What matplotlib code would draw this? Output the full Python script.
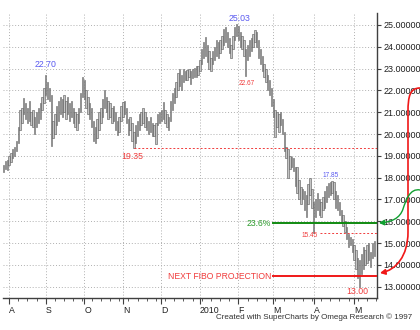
import matplotlib
matplotlib.use("Agg")
import matplotlib.pyplot as plt
import numpy as np
from matplotlib.path import Path
from matplotlib.patches import FancyArrowPatch

plt.rcParams['font.family'] = ['Liberation Sans', 'DejaVu Sans']

# ---- data (daily bars) ----
highs = [18.6, 18.75, 18.8, 19.0, 19.15, 19.3, 19.4, 19.7, 20.3, 21.1,
         21.2, 21.65, 21.4, 21.2, 21.5, 21.0, 21.1, 20.8, 21.0, 21.2,
         21.4, 21.7, 22.1, 22.7, 22.4, 22.1, 21.8, 20.6, 20.9, 21.3,
         21.5, 21.7, 21.6, 21.8, 21.5, 21.7, 21.4, 21.5, 21.2, 21.0,
         20.9, 21.2, 21.9, 22.6, 22.5, 22.0, 21.7, 21.4, 21.2, 20.6,
         20.3, 20.7, 21.0, 21.2, 21.6, 22.0, 21.7, 21.5, 21.4, 21.2,
         21.3, 21.0, 20.6, 20.8, 21.3, 21.45, 21.5, 21.2, 20.7, 20.8,
         20.5, 20.1, 20.4, 20.6, 20.9, 21.0, 21.2, 21.0, 20.8, 20.6,
         20.8, 20.5, 20.4, 20.5, 20.9, 21.0, 21.1, 21.45, 21.1, 20.9,
         20.8, 21.5, 21.9, 22.1, 22.4, 22.8, 23.0, 22.7, 23.0, 22.9,
         22.95, 23.0, 22.9, 23.0, 23.05, 23.1, 23.1, 23.4, 23.9, 24.2,
         24.45, 24.1, 23.8, 23.5, 23.8, 24.0, 24.3, 24.2, 24.3, 24.5,
         24.8, 24.9, 24.7, 24.4, 24.1, 24.5, 24.9, 25.03, 24.95, 24.7,
         24.5, 24.3, 23.9, 24.1, 24.3, 24.4, 24.6, 24.75, 24.7, 24.3,
         23.9, 23.6, 23.2, 23.0, 22.7, 22.5, 22.1, 21.6, 21.1, 21.0,
         20.9, 21.0, 20.7, 20.1, 19.4, 19.3, 19.0, 18.95, 18.9, 18.5,
         18.5, 17.9, 17.55, 17.5, 17.4, 17.2, 17.7, 18.0, 17.5, 16.9,
         17.0, 17.3, 17.0, 16.9, 17.1, 17.4, 17.6, 17.75, 17.8, 17.85,
         17.8, 17.4, 17.2, 16.9, 16.5, 16.3, 16.0, 15.75, 15.4, 15.3,
         15.2, 14.9, 14.7, 14.3, 14.2, 14.5, 14.8, 14.7, 14.9, 15.0,
         14.6, 15.0, 15.1]
lows = [18.25, 18.4, 18.35, 18.6, 18.7, 18.9, 19.0, 19.2, 19.6, 20.2,
        20.5, 20.9, 20.7, 20.5, 20.6, 20.4, 20.3, 20.0, 20.3, 20.5,
        20.7, 21.1, 21.4, 21.8, 21.6, 21.5, 19.45, 19.8, 20.0, 20.4,
        20.6, 20.9, 20.8, 21.0, 20.7, 20.9, 20.6, 20.8, 20.5, 20.3,
        20.2, 20.5, 21.0, 21.7, 21.6, 21.2, 20.9, 20.7, 20.3, 19.7,
        19.6, 19.8, 20.2, 20.5, 20.8, 21.2, 21.0, 20.7, 20.8, 20.5,
        20.6, 20.2, 19.95, 20.1, 20.6, 20.8, 20.9, 20.5, 19.95, 20.2,
        19.7, 19.35, 19.6, 19.9, 20.2, 20.4, 20.5, 20.3, 20.2, 20.0,
        20.1, 19.9, 19.9, 19.55, 20.4, 20.5, 20.6, 20.7, 20.5, 20.3,
        20.2, 20.6, 21.1, 21.4, 21.7, 22.0, 22.2, 22.0, 22.4, 22.5,
        22.5, 22.6, 22.3, 22.55, 22.6, 22.6, 22.7, 22.9, 23.2, 23.5,
        23.6, 23.3, 23.0, 22.9, 23.2, 23.4, 23.6, 23.5, 23.7, 23.9,
        24.1, 24.2, 24.0, 23.7, 23.5, 23.9, 24.3, 24.5, 24.3, 24.0,
        23.9, 23.6, 22.67, 23.4, 23.6, 23.8, 24.0, 24.2, 24.0, 23.5,
        23.2, 22.9, 22.6, 22.4, 22.0, 21.8, 21.3, 20.8, 19.85, 20.3,
        20.1, 20.4, 20.0, 19.2, 18.9, 18.0, 18.4, 18.5, 18.3, 17.6,
        17.3, 17.0, 16.8, 17.0, 16.5, 16.2, 16.8, 17.2, 16.6, 15.45,
        16.2, 16.5, 16.3, 16.2, 16.5, 16.6, 16.9, 17.1, 17.2, 17.3,
        17.0, 16.6, 16.5, 16.3, 15.9, 15.8, 15.5, 15.2, 14.8, 14.9,
        14.6, 14.2, 13.8, 13.4, 13.0, 13.6, 13.8, 14.0, 14.1, 14.2,
        13.9, 14.3, 14.4]

month_ticks = [3, 23, 44, 65, 86, 107, 128, 147, 169, 191]
month_labels = ['A', 'S', 'O', 'N', 'D', '2010', 'F', 'M', 'A', 'M']
price_ticks = [13, 14, 15, 16, 17, 18, 19, 20, 21, 22, 23, 24, 25]

swing_low_1 = 19.35
swing_low_2 = 15.45
fib_236 = 15.9
fib_projection = 13.48

W, H = 420, 330
fig = plt.figure(figsize=(W / 100, H / 100), dpi=100)
fig.patch.set_facecolor('white')
ax = fig.add_axes([3 / W, 1 - 298 / H, (377 - 3) / W, (298 - 13) / H])

idx = np.arange(len(highs))
hi = np.array(highs)
lo = np.array(lows)
ax.bar(idx, hi - lo, bottom=lo, width=0.75, color='#c4c4c4',
       edgecolor='#555555', linewidth=0.4, zorder=3)

ax.set_xlim(-0.3, 203.5)
ax.set_ylim(12.48, 25.55)

# axes styling
for s in ['left', 'top']:
    ax.spines[s].set_visible(False)
for s in ['right', 'bottom']:
    ax.spines[s].set_color('#404040')
    ax.spines[s].set_linewidth(1.0)

ax.yaxis.tick_right()
ax.set_yticks(price_ticks)
ax.set_yticklabels([f"{v:.5f}" for v in price_ticks], fontsize=6.5, color='#202020')
ax.tick_params(axis='y', length=3, width=0.8, color='#404040', pad=1.5)

ax.set_xticks(month_ticks)
ax.set_xticklabels(month_labels, fontsize=6.3, color='#202020', ha='left')
ax.set_xticks(np.arange(3, 204, 5), minor=True)
ax.tick_params(axis='x', which='major', length=4, width=0.8, color='#404040', pad=1.5)
ax.tick_params(axis='x', which='minor', length=2, width=0.6, color='#404040')

ax.grid(True, which='major', linestyle=(0, (1, 2)), color='#b0b0b0', linewidth=0.7)
ax.set_axisbelow(True)

# annotations
blue = '#5a5af0'
red = '#f03c3c'
green = '#2a9a2a'
ax.text(23, 23.17, '22.70', color=blue, fontsize=6.3, ha='center', va='center')
ax.text(128.6, 25.32, '25.03', color=blue, fontsize=6.3, ha='center', va='center')
ax.text(70, 18.95, '19.35', color=red, fontsize=6.3, ha='center', va='center')
ax.text(132.5, 22.3, '22.67', color=red, fontsize=4.7, ha='center', va='center')
ax.text(178.5, 18.12, '17.85', color=blue, fontsize=4.7, ha='center', va='center')
ax.text(167, 15.35, '15.45', color=red, fontsize=4.7, ha='center', va='center')
ax.text(192.8, 12.8, '13.00', color=red, fontsize=6.3, ha='center', va='center')
ax.text(145.6, fib_236, '23.6%', color=green, fontsize=6.2, ha='right', va='center')
ax.text(146, fib_projection, 'NEXT FIBO PROJECTION', color=red, fontsize=6.2,
        ha='right', va='center')

ax.plot([71, 203.5], [swing_low_1, swing_low_1], color=red, lw=0.7,
        linestyle=(0, (2, 2)), zorder=4)
ax.plot([172.6, 203.5], [swing_low_2, swing_low_2], color=red, lw=0.7,
        linestyle=(0, (2, 2)), zorder=4)
ax.plot([147, 203.5], [fib_236, fib_236], color='#108a10', lw=1.4, zorder=4)
ax.plot([147, 203.5], [fib_projection, fib_projection], color='#f01818', lw=1.4, zorder=4)


def fpt(x, y):
    return (x / W, 1 - y / H)


red_path = Path([fpt(420, 88), fpt(410, 88), fpt(408, 96), fpt(408, 112),
                 fpt(408, 232),
                 fpt(408, 256), fpt(396, 270), fpt(380, 273)],
                [Path.MOVETO, Path.CURVE4, Path.CURVE4, Path.CURVE4,
                 Path.LINETO, Path.CURVE4, Path.CURVE4, Path.CURVE4])
arr1 = FancyArrowPatch(path=red_path, transform=fig.transFigure,
                       arrowstyle='-|>,head_length=3,head_width=1.6',
                       color='#f01818', lw=1.2)
fig.patches.append(arr1)

green_path = Path([fpt(420, 190), fpt(410, 188), fpt(406, 200), fpt(403, 209),
                   fpt(400, 218), fpt(392, 222), fpt(379, 223)],
                  [Path.MOVETO, Path.CURVE4, Path.CURVE4, Path.CURVE4,
                   Path.CURVE4, Path.CURVE4, Path.CURVE4])
arr2 = FancyArrowPatch(path=green_path, transform=fig.transFigure,
                       arrowstyle='-|>,head_length=3,head_width=1.6',
                       color='#10a030', lw=1.0)
fig.patches.append(arr2)

fig.text(412 / W, 1 - 317 / H, 'Created with SuperCharts by Omega Research \u00a9 1997',
         fontsize=5.8, color='#303030', ha='right', va='center')

fig.savefig('out.png', dpi=100)
